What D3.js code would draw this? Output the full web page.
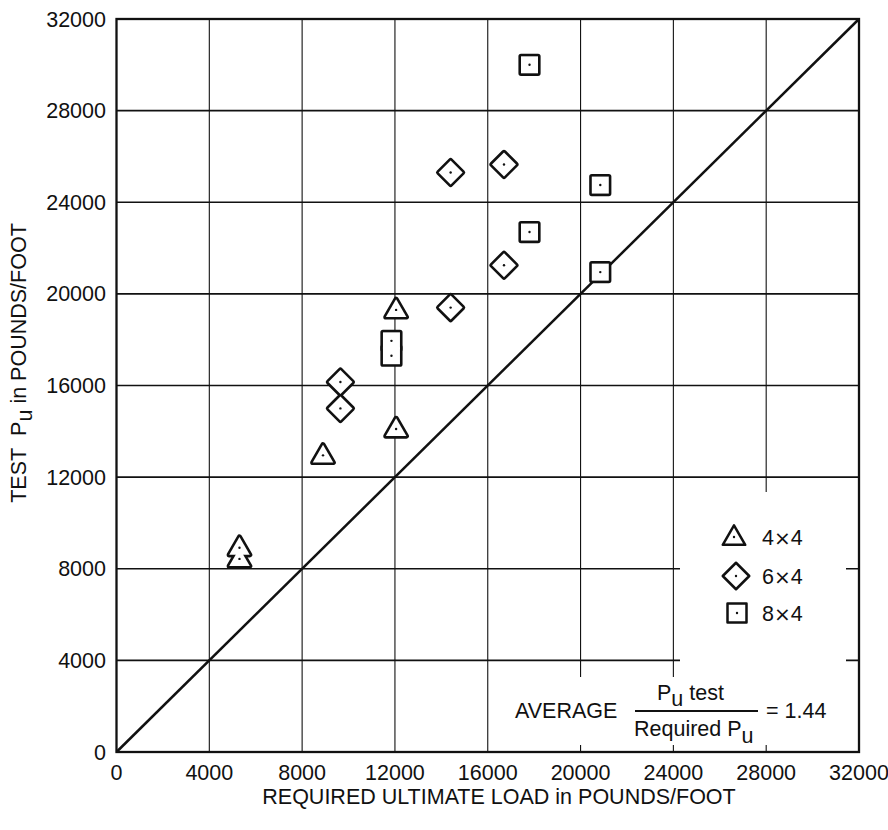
<!DOCTYPE html>
<html>
<head>
<meta charset="utf-8">
<script src="https://cdn.jsdelivr.net/npm/d3@7"></script>
<style>
  html, body { margin: 0; padding: 0; background: #fff; }
  svg { display: block; }
  text { font-family: "Liberation Sans", Arial, Helvetica, sans-serif; fill: #111; }
</style>
</head>
<body>
<svg id="chart" width="888" height="830"></svg>
<script>
// ---- data ----
const xTicks = [0, 4000, 8000, 12000, 16000, 20000, 24000, 28000, 32000];
const yTicks = [0, 4000, 8000, 12000, 16000, 20000, 24000, 28000, 32000];

const req4x4  = [5300, 5300, 8900, 12050, 12050];
const test4x4 = [8920, 8430, 12950, 14100, 19300];

const req6x4  = [9650, 9650, 14400, 14400, 16700, 16700];
const test6x4 = [16150, 15000, 19400, 25300, 25650, 21250];

const req8x4  = [17800, 17800, 20850, 20850, 11850, 11850];
const test8x4 = [30000, 22700, 24750, 20950, 17950, 17300];

const seriesNames = [["4", "4"], ["6", "4"], ["8", "4"]];
const averageRatio = "1.44";

// ---- layout ----
const FS = 21.5;
const svg = d3.select("#chart");
const x = d3.scaleLinear().domain([0, 32000]).range([116.5, 859]);
const y = d3.scaleLinear().domain([0, 32000]).range([752, 19]);
const ink = "#111";

// grid
const g = svg.append("g");
g.selectAll("line.v").data(xTicks.slice(1, -1)).join("line")
  .attr("x1", d => x(d)).attr("x2", d => x(d))
  .attr("y1", y(32000)).attr("y2", y(0))
  .attr("stroke", ink).attr("stroke-width", 1.1);
g.selectAll("line.h").data(yTicks.slice(1, -1)).join("line")
  .attr("x1", x(0)).attr("x2", x(32000))
  .attr("y1", d => y(d)).attr("y2", d => y(d))
  .attr("stroke", ink).attr("stroke-width", 1.7);

// 1:1 line
g.append("line")
  .attr("x1", x(0)).attr("y1", y(0))
  .attr("x2", x(32000)).attr("y2", y(32000))
  .attr("stroke", ink).attr("stroke-width", 2.5);

// white masks for legend + annotation
g.append("rect").attr("x", 490).attr("y", 677).attr("width", 356).attr("height", 68).attr("fill", "#fff");
g.append("rect").attr("x", 680).attr("y", 492).attr("width", 166).attr("height", 253).attr("fill", "#fff");

// frame
g.append("rect")
  .attr("x", x(0)).attr("y", y(32000))
  .attr("width", x(32000) - x(0)).attr("height", y(0) - y(32000))
  .attr("fill", "none").attr("stroke", ink).attr("stroke-width", 2.3);

// tick labels
svg.append("g").selectAll("text").data(xTicks).join("text")
  .attr("x", d => x(d)).attr("y", 780)
  .attr("text-anchor", "middle").attr("font-size", FS)
  .text(d => d);
svg.append("g").selectAll("text").data(yTicks).join("text")
  .attr("x", 106).attr("y", d => y(d) + 7.6)
  .attr("text-anchor", "end").attr("font-size", FS)
  .text(d => d);

// axis titles
svg.append("text")
  .attr("x", 499).attr("y", 804)
  .attr("text-anchor", "middle").attr("font-size", FS)
  .text("REQUIRED ULTIMATE LOAD in POUNDS/FOOT");

const yt = svg.append("text")
  .attr("transform", "translate(25.5,363) rotate(-90)")
  .attr("text-anchor", "middle").attr("font-size", FS);
yt.append("tspan").text("TEST\u00A0\u00A0P");
yt.append("tspan").attr("dy", 6).text("u");
yt.append("tspan").attr("dy", -6).text(" in POUNDS/FOOT");

// marker shapes (path centered so the dot is at 0,0)
function triPath(w) {
  const h = w * 0.866;
  const top = -h * 0.6, bot = h * 0.4;
  return `M0,${top}L${w/2},${bot}L${-w/2},${bot}Z`;
}
function diaPath(w) {
  const r = w / 2;
  return `M0,${-r}L${r},0L0,${r}L${-r},0Z`;
}
function sqPath(w) {
  const r = w / 2;
  return `M${-r},${-r}H${r}V${r}H${-r}Z`;
}

const groups = [
  { xs: req4x4, ys: test4x4, path: triPath(20.5) },
  { xs: req6x4, ys: test6x4, path: diaPath(24) },
  { xs: req8x4, ys: test8x4, path: sqPath(17) }
];

const mk = svg.append("g");
// outline layer (thick stroke), then white fill on top -> union outlines
groups.forEach(grp => {
  mk.append("g").selectAll("path").data(grp.xs.map((v, i) => [v, grp.ys[i]])).join("path")
    .attr("d", grp.path)
    .attr("transform", d => `translate(${x(d[0])},${y(d[1])})`)
    .attr("fill", ink).attr("stroke", ink).attr("stroke-width", 5.2)
    .attr("stroke-linejoin", "round");
});
groups.forEach(grp => {
  mk.append("g").selectAll("path").data(grp.xs.map((v, i) => [v, grp.ys[i]])).join("path")
    .attr("d", grp.path)
    .attr("transform", d => `translate(${x(d[0])},${y(d[1])})`)
    .attr("fill", "#fff").attr("stroke", "none");
});
groups.forEach(grp => {
  mk.append("g").selectAll("circle").data(grp.xs.map((v, i) => [v, grp.ys[i]])).join("circle")
    .attr("cx", d => x(d[0])).attr("cy", d => y(d[1])).attr("r", 1.2)
    .attr("fill", ink);
});

// legend
const legendRows = [
  { path: triPath(22.5), cx: 734, cy: 537, ty: 544.5 },
  { path: diaPath(26.5), cx: 736, cy: 576, ty: 583.5 },
  { path: sqPath(19), cx: 737, cy: 613, ty: 621 }
];
const lg = svg.append("g");
legendRows.forEach((r, i) => {
  lg.append("path").attr("d", r.path)
    .attr("transform", `translate(${r.cx},${r.cy})`)
    .attr("fill", "#fff").attr("stroke", ink).attr("stroke-width", 2.5)
    .attr("stroke-linejoin", "round");
  lg.append("circle").attr("cx", r.cx).attr("cy", r.cy).attr("r", 1.2).attr("fill", ink);
  const t = lg.append("text").attr("x", 762).attr("y", r.ty).attr("font-size", FS);
  t.append("tspan").text(seriesNames[i][0]);
  t.append("tspan").attr("font-family", "DejaVu Sans").attr("font-size", 20).text("\u00D7");
  t.append("tspan").text(seriesNames[i][1]);
});

// annotation
const an = svg.append("g");
an.append("text").attr("x", 515).attr("y", 718).attr("font-size", FS).text("AVERAGE");
an.append("line").attr("x1", 635).attr("x2", 758).attr("y1", 711).attr("y2", 711)
  .attr("stroke", ink).attr("stroke-width", 1.8);
const num = an.append("text").attr("x", 657).attr("y", 700).attr("font-size", FS);
num.append("tspan").text("P");
num.append("tspan").attr("dy", 6).text("u");
num.append("tspan").attr("dy", -6).text(" test");
const den = an.append("text").attr("x", 634).attr("y", 736).attr("font-size", FS);
den.append("tspan").text("Required P");
den.append("tspan").attr("dy", 7).text("u");
an.append("text").attr("x", 766).attr("y", 718).attr("font-size", FS).text("= " + averageRatio);
</script>
</body>
</html>
